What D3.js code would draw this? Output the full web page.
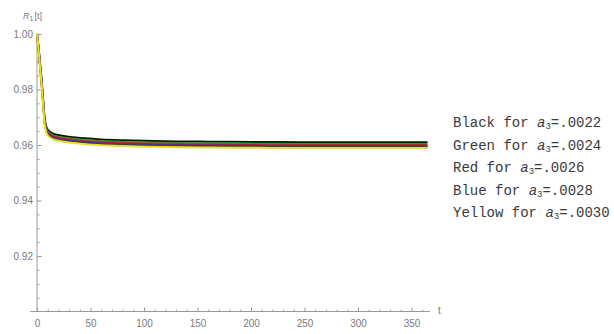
<!DOCTYPE html>
<html>
<head>
<meta charset="utf-8">
<script src="https://cdn.jsdelivr.net/npm/d3@7"></script>
<style>
  html, body { margin: 0; padding: 0; background: #fff; }
  svg { display: block; }
</style>
</head>
<body>
<svg id="chart" width="614" height="334"></svg>
<script>
// Sample times (days) and R1(t) for each value of a3
const times  = [0, 1, 2, 3, 4, 5, 6, 7, 8, 9, 10, 12, 15, 20, 30, 45, 60, 80, 100, 130, 160, 200, 250, 300, 365];
const black  = [1.0000, 0.9968, 0.9930, 0.9887, 0.9848, 0.9799, 0.9750, 0.9701, 0.9676, 0.9663, 0.9656, 0.9648, 0.9641, 0.9636, 0.9630, 0.9624, 0.9620, 0.9617, 0.9615, 0.9613, 0.9612, 0.9611, 0.9610, 0.9610, 0.9610];
const green  = [1.0000, 0.9966, 0.9927, 0.9883, 0.9844, 0.9795, 0.9745, 0.9695, 0.9670, 0.9657, 0.9650, 0.9642, 0.9635, 0.9630, 0.9624, 0.9618, 0.9614, 0.9611, 0.9609, 0.9607, 0.9606, 0.9605, 0.9604, 0.9604, 0.9604];
const red    = [1.0000, 0.9965, 0.9925, 0.9880, 0.9840, 0.9790, 0.9740, 0.9690, 0.9665, 0.9652, 0.9645, 0.9637, 0.9630, 0.9625, 0.9619, 0.9613, 0.9609, 0.9606, 0.9604, 0.9602, 0.9601, 0.9600, 0.9599, 0.9599, 0.9599];
const blue   = [1.0000, 0.9964, 0.9923, 0.9877, 0.9836, 0.9785, 0.9735, 0.9685, 0.9660, 0.9647, 0.9640, 0.9632, 0.9625, 0.9620, 0.9614, 0.9608, 0.9604, 0.9601, 0.9599, 0.9597, 0.9596, 0.9595, 0.9594, 0.9594, 0.9594];
const yellow = [1.0000, 0.9962, 0.9920, 0.9873, 0.9832, 0.9780, 0.9730, 0.9680, 0.9655, 0.9642, 0.9635, 0.9627, 0.9620, 0.9615, 0.9609, 0.9603, 0.9599, 0.9596, 0.9594, 0.9592, 0.9591, 0.9590, 0.9589, 0.9589, 0.9589];

const seriesNames  = ["Black", "Green", "Red", "Blue", "Yellow"];
const a3Values     = [".0022", ".0024", ".0026", ".0028", ".0030"];
const xTickValues  = [0, 50, 100, 150, 200, 250, 300, 350];
const yTickValues  = [0.92, 0.94, 0.96, 0.98, 1.00];

const seriesData   = [black, green, red, blue, yellow];
const seriesColors = ["#111111", "#1f9a2f", "#d01010", "#2535c0", "#f2e600"];

const svg = d3.select("#chart");

const x = d3.scaleLinear().domain([0, 350]).range([37, 411.5]);
const y = d3.scaleLinear().domain([0.90, 1.00]).range([311.5, 34]);

const axisColor = "#9a9a9a";
const labelColor = "#7a7a7a";

// Minor tick positions
const xMinor = d3.range(10, 370, 10).filter(v => v % 50 !== 0);
const yMinor = d3.range(0.905, 1.0, 0.005).filter(v => Math.abs(v * 50 - Math.round(v * 50)) > 1e-6);

// x axis (ticks point up into the plot)
const gx = svg.append("g").attr("transform", `translate(0,${y(0.90)})`);
gx.call(d3.axisBottom(x).tickValues(xMinor).tickSize(-2).tickFormat(""));
gx.call(g => g.selectAll(".tick line").attr("stroke", axisColor));
const gxMaj = svg.append("g").attr("transform", `translate(0,${y(0.90)})`);
gxMaj.call(d3.axisBottom(x).tickValues(xTickValues).tickSize(-4).tickPadding(8).tickFormat(d3.format("d")));
svg.selectAll("g .domain").remove();
gxMaj.selectAll(".tick line").attr("stroke", axisColor);
gxMaj.selectAll(".tick text")
  .attr("fill", labelColor).attr("font-family", "Liberation Sans, Arial, sans-serif").attr("font-size", 10);

// y axis (ticks point right into the plot)
const gy = svg.append("g").attr("transform", `translate(${x(0)},0)`);
gy.call(d3.axisLeft(y).tickValues(yMinor).tickSize(-2.5).tickFormat(""));
gy.selectAll(".domain").remove();
gy.selectAll(".tick line").attr("stroke", axisColor);
const gyMaj = svg.append("g").attr("transform", `translate(${x(0)},0)`);
gyMaj.call(d3.axisLeft(y).tickValues(yTickValues).tickSize(-4.5).tickPadding(4).tickFormat(d3.format(".2f")));
gyMaj.selectAll(".domain").remove();
gyMaj.selectAll(".tick line").attr("stroke", axisColor);
gyMaj.selectAll(".tick text")
  .attr("fill", labelColor).attr("font-family", "Liberation Sans, Arial, sans-serif").attr("font-size", 10);

// Axis lines
svg.append("line")
  .attr("x1", 30).attr("x2", 430).attr("y1", y(0.90)).attr("y2", y(0.90))
  .attr("stroke", axisColor).attr("stroke-width", 1);
svg.append("line")
  .attr("x1", x(0)).attr("x2", x(0)).attr("y1", y(0.90)).attr("y2", 33)
  .attr("stroke", axisColor).attr("stroke-width", 1);

// Axis labels
svg.append("text")
  .attr("x", 438).attr("y", 314)
  .attr("fill", labelColor).attr("font-family", "Liberation Sans, Arial, sans-serif").attr("font-size", 10)
  .text("t");
const yl = svg.append("text")
  .attr("x", 23).attr("y", 19)
  .attr("fill", labelColor).attr("font-family", "Liberation Sans, Arial, sans-serif").attr("font-size", 9);
yl.append("tspan").attr("font-style", "italic").text("R");
yl.append("tspan").attr("font-size", 7).attr("dy", 2).text("1");
yl.append("tspan").attr("dy", -2).attr("dx", 1).text("[t]");

// Curves
const line = d3.line()
  .x((d, i) => x(times[i]))
  .y(d => y(d))
  .curve(d3.curveMonotoneX);

svg.append("g").selectAll("path")
  .data(seriesData)
  .join("path")
  .attr("d", d => line(d))
  .attr("fill", "none")
  .attr("stroke", (d, i) => seriesColors[i])
  .attr("stroke-width", 2)
  .attr("stroke-linejoin", "round");

// Legend text
const legend = svg.append("g")
  .attr("font-family", "Liberation Mono, DejaVu Sans Mono, monospace")
  .attr("font-size", 14)
  .attr("fill", "#3a3a3a");
seriesNames.forEach((name, i) => {
  const t = legend.append("text").attr("x", 453).attr("y", 127 + i * 22.5);
  t.append("tspan").text(`${name} for `);
  t.append("tspan").attr("font-style", "italic").text("a");
  t.append("tspan").attr("font-size", 9).attr("dy", 2).text("3");
  t.append("tspan").attr("dy", -2).text(`=${a3Values[i]}`);
});
</script>
</body>
</html>
